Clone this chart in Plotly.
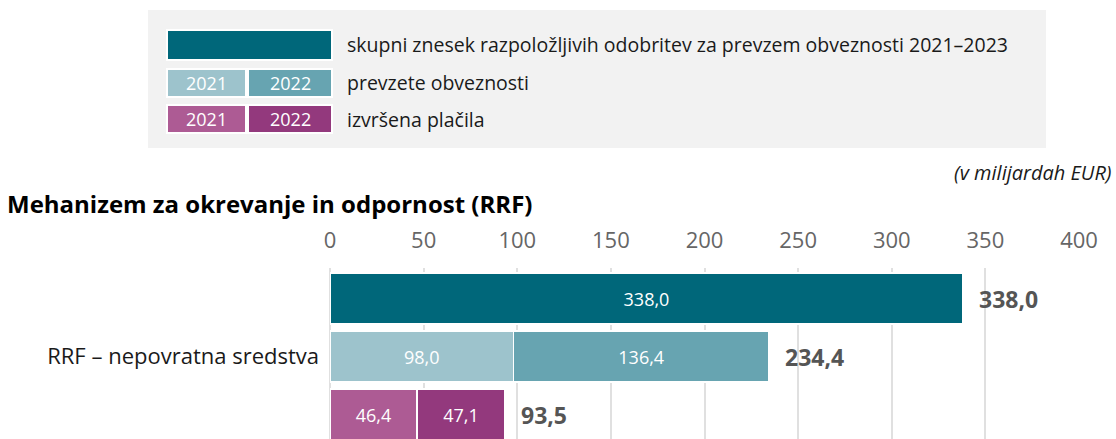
import plotly.graph_objects as go

# data (billion EUR)
rows = [0, 1, 2]
row_label = "RRF – nepovratna sredstva"
available_total = [338.0]
committed_2021 = [98.0]
committed_2022 = [136.4]
paid_2021 = [46.4]
paid_2022 = [47.1]
ticks = [0, 50, 100, 150, 200, 250, 300, 350, 400]

legend_texts = [
    "skupni znesek razpoložljivih odobritev za prevzem obveznosti 2021–2023",
    "prevzete obveznosti",
    "izvršena plačila",
]

DARK_TEAL = "#00677a"
TEAL_21 = "#9dc3cc"
TEAL_22 = "#67a4b1"
PINK_21 = "#ad5b94"
PURPLE_22 = "#93397d"
FONT = "Open Sans"

W, H = 1116, 439
L, R, T, B = 330, 37, 268, 0

fig = go.Figure()


def add_bar(x, y, color):
    fig.add_trace(go.Bar(
        x=x, y=y, orientation="h", marker=dict(color=color, line=dict(color="white", width=1.5)),
        width=0.88, texttemplate="%{x:.1f}", textposition="inside", insidetextanchor="middle",
        textfont=dict(color="white", size=18, family=FONT), hoverinfo="skip", showlegend=False,
    ))


add_bar(available_total, [rows[0]], DARK_TEAL)
add_bar(committed_2021, [rows[1]], TEAL_21)
add_bar(committed_2022, [rows[1]], TEAL_22)
add_bar(paid_2021, [rows[2]], PINK_21)
add_bar(paid_2022, [rows[2]], PURPLE_22)

totals = [available_total[0], committed_2021[0] + committed_2022[0], paid_2021[0] + paid_2022[0]]
for r, t in zip(rows, totals):
    fig.add_annotation(x=t, y=r, xref="x", yref="y", text=f"<b>{t:.1f}</b>".replace(".", ","),
                       showarrow=False, xanchor="left", yanchor="middle", xshift=14,
                       font=dict(size=23, color="#555555", family=FONT))


# pixel -> paper (paper is the plot area)
def px_x(v):
    return (v - L) / (W - L - R)


def px_y(v):
    return (H - B - v) / (H - T - B)


shapes = [dict(type="rect", xref="paper", yref="paper", x0=px_x(148), x1=px_x(1046),
               y0=px_y(148), y1=px_y(10), fillcolor="#f2f2f2", line=dict(width=0), layer="below")]
swatches = [
    (167, 332, 30, 60, DARK_TEAL, ""),
    (167, 246, 69, 97, TEAL_21, "2021"),
    (248, 332, 69, 97, TEAL_22, "2022"),
    (167, 246, 105, 133, PINK_21, "2021"),
    (248, 332, 105, 133, PURPLE_22, "2022"),
]
for x0, x1, y0, y1, c, lab in swatches:
    shapes.append(dict(type="rect", xref="paper", yref="paper", x0=px_x(x0), x1=px_x(x1),
                       y0=px_y(y1), y1=px_y(y0), fillcolor=c, line=dict(color="white", width=2)))
    if lab:
        fig.add_annotation(xref="paper", yref="paper", x=px_x((x0 + x1) / 2), y=px_y((y0 + y1) / 2),
                           xanchor="center", yanchor="middle", text=lab, showarrow=False,
                           font=dict(color="white", size=18, family=FONT))
for txt, yc in zip(legend_texts, [45, 83, 119]):
    fig.add_annotation(xref="paper", yref="paper", x=px_x(345), y=px_y(yc), xanchor="left",
                       yanchor="middle", text=txt, showarrow=False,
                       font=dict(color="#1a1a1a", size=19.5, family=FONT))

fig.add_annotation(xref="paper", yref="paper", x=px_x(1114), y=px_y(172), xanchor="right",
                   yanchor="middle", text="<i>(v milijardah EUR)</i>", showarrow=False,
                   font=dict(color="#1a1a1a", size=20, family=FONT))
fig.add_annotation(xref="paper", yref="paper", x=px_x(5), y=px_y(203), xanchor="left",
                   yanchor="middle", text="<b>Mehanizem za okrevanje in odpornost (RRF)</b>",
                   showarrow=False, font=dict(color="#000000", size=24, family=FONT))

fig.update_layout(
    width=W, height=H, barmode="stack", separators=", ",
    plot_bgcolor="white", paper_bgcolor="white", shapes=shapes,
    margin=dict(l=L, r=R, t=T, b=B),
    font=dict(family=FONT),
    xaxis=dict(side="top", range=[0, 400], tickvals=ticks, tickformat="d", showgrid=True,
               gridcolor="#e0e0e0", gridwidth=2, zeroline=True, zerolinecolor="#e0e0e0", zerolinewidth=2,
               tickfont=dict(size=22, color="#666666"), ticklabelstandoff=15, automargin=False),
    yaxis=dict(range=[2.42, -0.53], tickvals=[rows[1]], ticktext=[row_label], showgrid=False,
               zeroline=False, tickfont=dict(size=22, color="#1a1a1a"), ticklabelstandoff=10,
               automargin=False),
)

# the page's default 8px body margin would shift the figure
fig.write_html("out.html", config={"displayModeBar": False},
               post_script="document.body.style.margin='0px';")
